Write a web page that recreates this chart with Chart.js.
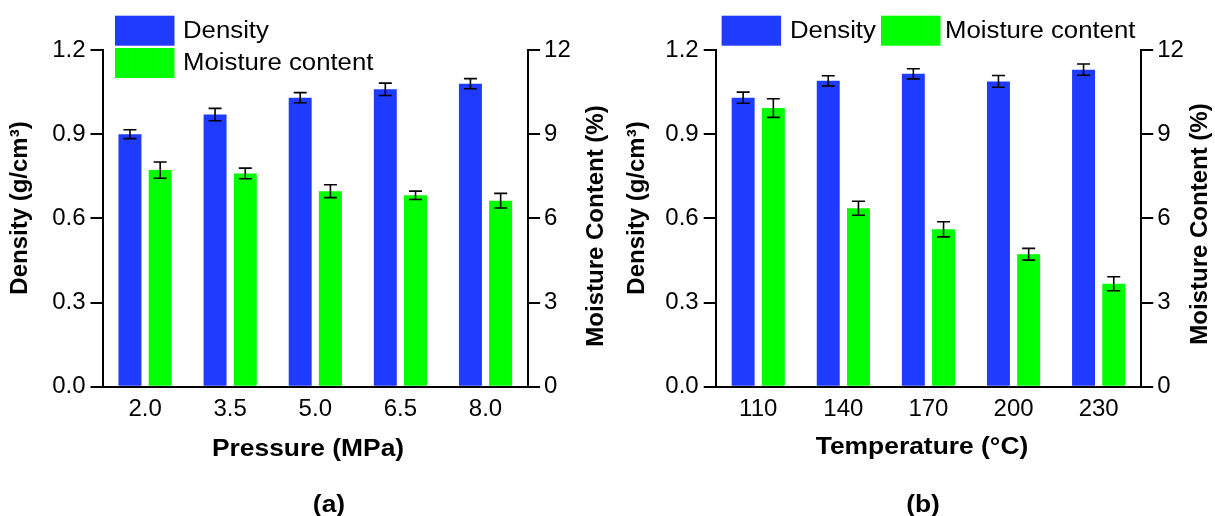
<!DOCTYPE html>
<html>
<head>
<meta charset="utf-8">
<script src="https://cdn.jsdelivr.net/npm/chart.js@4.4.1/dist/chart.umd.min.js"></script>
<style>
  html, body { margin: 0; padding: 0; background: #fff; }
  #wrap { position: relative; width: 1215px; height: 516px; overflow: hidden; }
  canvas { position: absolute; top: 0; }
</style>
</head>
<body>
<div id="wrap">
  <canvas id="chartA" width="608" height="516" style="left:0"></canvas>
  <canvas id="chartB" width="607" height="516" style="left:608px"></canvas>
</div>
<script>
// (a) pressure series
const pressureLabels = ['2.0', '3.5', '5.0', '6.5', '8.0'];
const pressureDensity = [0.90, 0.97, 1.03, 1.06, 1.08];
const pressureDensityErr = [0.016, 0.022, 0.018, 0.022, 0.018];
const pressureMoisture = [7.72, 7.60, 6.97, 6.82, 6.63];
const pressureMoistureErr = [0.29, 0.19, 0.23, 0.15, 0.26];

// (b) temperature series
const tempLabels = ['110', '140', '170', '200', '230'];
const tempDensity = [1.03, 1.09, 1.115, 1.088, 1.13];
const tempDensityErr = [0.020, 0.018, 0.018, 0.021, 0.020];
const tempMoisture = [9.93, 6.36, 5.61, 4.72, 3.67];
const tempMoistureErr = [0.33, 0.25, 0.27, 0.21, 0.25];

const densityTicks = [0, 0.3, 0.6, 0.9, 1.2];
const moistureTicks = [0, 3, 6, 9, 12];

const BLUE = '#1f3bff';
const GREEN = '#00ff00';
const FONT = "'Liberation Sans', Arial, sans-serif";

function hText(ctx, text, x, y, font, align, sx) {
    ctx.save();
    ctx.font = font;
    ctx.fillStyle = '#000';
    ctx.textAlign = align;
    ctx.textBaseline = 'middle';
    ctx.translate(x, y);
    ctx.scale(sx, 1);
    ctx.fillText(text, 0, 0);
    ctx.restore();
}

function vText(ctx, text, x, y, font) {
    ctx.save();
    ctx.font = font;
    ctx.fillStyle = '#000';
    ctx.textAlign = 'center';
    ctx.textBaseline = 'middle';
    ctx.translate(x, y);
    ctx.rotate(-Math.PI / 2);
    ctx.fillText(text, 0, 0);
    ctx.restore();
}

// error bars drawn on the bar elements, using each dataset's own y scale
const errorBars = {
    id: 'errorBars',
    afterDatasetsDraw(chart) {
        const ctx = chart.ctx;
        ctx.save();
        ctx.strokeStyle = '#000';
        ctx.lineWidth = 1.6;
        chart.data.datasets.forEach((ds, di) => {
            const meta = chart.getDatasetMeta(di);
            const scale = chart.scales[ds.yAxisID];
            meta.data.forEach((bar, i) => {
                const v = ds.data[i], e = ds.errors[i];
                const yTop = scale.getPixelForValue(v + e);
                const yBot = scale.getPixelForValue(v - e);
                const x = bar.x, w = 6.5;
                ctx.beginPath();
                ctx.moveTo(x, yTop); ctx.lineTo(x, yBot);
                ctx.moveTo(x - w, yTop); ctx.lineTo(x + w, yTop);
                ctx.moveTo(x - w, yBot); ctx.lineTo(x + w, yBot);
                ctx.stroke();
            });
        });
        ctx.restore();
    }
};

// legend, axis titles and panel label
const decorations = {
    id: 'decorations',
    afterDraw(chart) {
        const ctx = chart.ctx;
        const p = chart.options.plugins.decorations;
        chart.data.datasets.forEach((ds, i) => {
            const it = p.legend[i];
            ctx.fillStyle = ds.backgroundColor;
            ctx.fillRect(it.bx, it.by, 59.5, 30);
            hText(ctx, ds.label, it.tx, it.by + 16, '23px ' + FONT, 'left', 1.12);
        });
        vText(ctx, 'Density (g/cm³)', p.yTitle[0], p.yTitle[1], 'bold 24px ' + FONT);
        vText(ctx, 'Moisture Content (%)', p.y2Title[0], p.y2Title[1], 'bold 24px ' + FONT);
        hText(ctx, p.xTitle, p.xTitlePos[0], p.xTitlePos[1], 'bold 24px ' + FONT, 'center', 1.1);
        hText(ctx, p.panel, p.panelPos[0], p.panelPos[1], 'bold 24px ' + FONT, 'center', 1.1);
    }
};

function makeChart(id, cfg) {
    const canvas = document.getElementById(id);
    const W = canvas.width;
    return new Chart(canvas.getContext('2d'), {
        type: 'bar',
        data: {
            labels: cfg.labels,
            datasets: [
                { label: 'Density', data: cfg.density, errors: cfg.densityErr, yAxisID: 'y',
                  backgroundColor: BLUE, borderWidth: 0 },
                { label: 'Moisture content', data: cfg.moisture, errors: cfg.moistureErr, yAxisID: 'y2',
                  backgroundColor: GREEN, borderWidth: 0 }
            ]
        },
        options: {
            responsive: false,
            devicePixelRatio: 1,
            animation: false,
            events: [],
            categoryPercentage: 0.71,
            barPercentage: 0.76,
            layout: { padding: { top: 50, left: 0, right: 0, bottom: 0 } },
            plugins: {
                legend: { display: false },
                tooltip: { enabled: false },
                decorations: cfg.deco
            },
            scales: {
                x: {
                    grid: { display: false, drawTicks: false, tickLength: 0 },
                    border: { display: true, color: '#000', width: 2 },
                    ticks: { color: '#000', padding: 8, font: { family: FONT, size: 24 } },
                    afterFit: (s) => { s.height = 516 - 386.7; }
                },
                y: {
                    position: 'left',
                    min: 0, max: 1.2,
                    afterBuildTicks: (s) => { s.ticks = densityTicks.map(v => ({ value: v })); },
                    grid: { display: true, drawOnChartArea: false, drawTicks: true, tickLength: 12,
                            tickWidth: 2, tickColor: '#000', color: '#000', lineWidth: 2 },
                    border: { display: true, color: '#000', width: 2 },
                    ticks: { color: '#000', padding: 5, font: { family: FONT, size: 24 },
                             callback: (v) => Number(v).toFixed(1) },
                    afterFit: (s) => { s.width = cfg.axisL; }
                },
                y2: {
                    position: 'right',
                    min: 0, max: 12,
                    afterBuildTicks: (s) => { s.ticks = moistureTicks.map(v => ({ value: v })); },
                    grid: { display: true, drawOnChartArea: false, drawTicks: true, tickLength: 12,
                            tickWidth: 2, tickColor: '#000', color: '#000', lineWidth: 2 },
                    border: { display: true, color: '#000', width: 2 },
                    ticks: { color: '#000', padding: 4, font: { family: FONT, size: 24 },
                             callback: (v) => String(v) },
                    afterFit: (s) => { s.width = W - cfg.axisR; }
                }
            }
        },
        plugins: [errorBars, decorations]
    });
}

makeChart('chartA', {
    labels: pressureLabels,
    density: pressureDensity, densityErr: pressureDensityErr,
    moisture: pressureMoisture, moistureErr: pressureMoistureErr,
    axisL: 102.5, axisR: 528.1,
    deco: {
        legend: [{ bx: 115, by: 15.7, tx: 183 }, { bx: 115, by: 48, tx: 183 }],
        yTitle: [20, 208], y2Title: [596, 226],
        xTitle: 'Pressure (MPa)', xTitlePos: [308, 449],
        panel: '(a)', panelPos: [329, 505]
    }
});

makeChart('chartB', {
    labels: tempLabels,
    density: tempDensity, densityErr: tempDensityErr,
    moisture: tempMoisture, moistureErr: tempMoistureErr,
    axisL: 107.7, axisR: 533.2,
    deco: {
        legend: [{ bx: 113.6, by: 15.7, tx: 182 }, { bx: 273, by: 15.7, tx: 337 }],
        yTitle: [29, 208], y2Title: [592, 224],
        xTitle: 'Temperature (°C)', xTitlePos: [314, 447],
        panel: '(b)', panelPos: [315, 505]
    }
});
</script>
</body>
</html>
